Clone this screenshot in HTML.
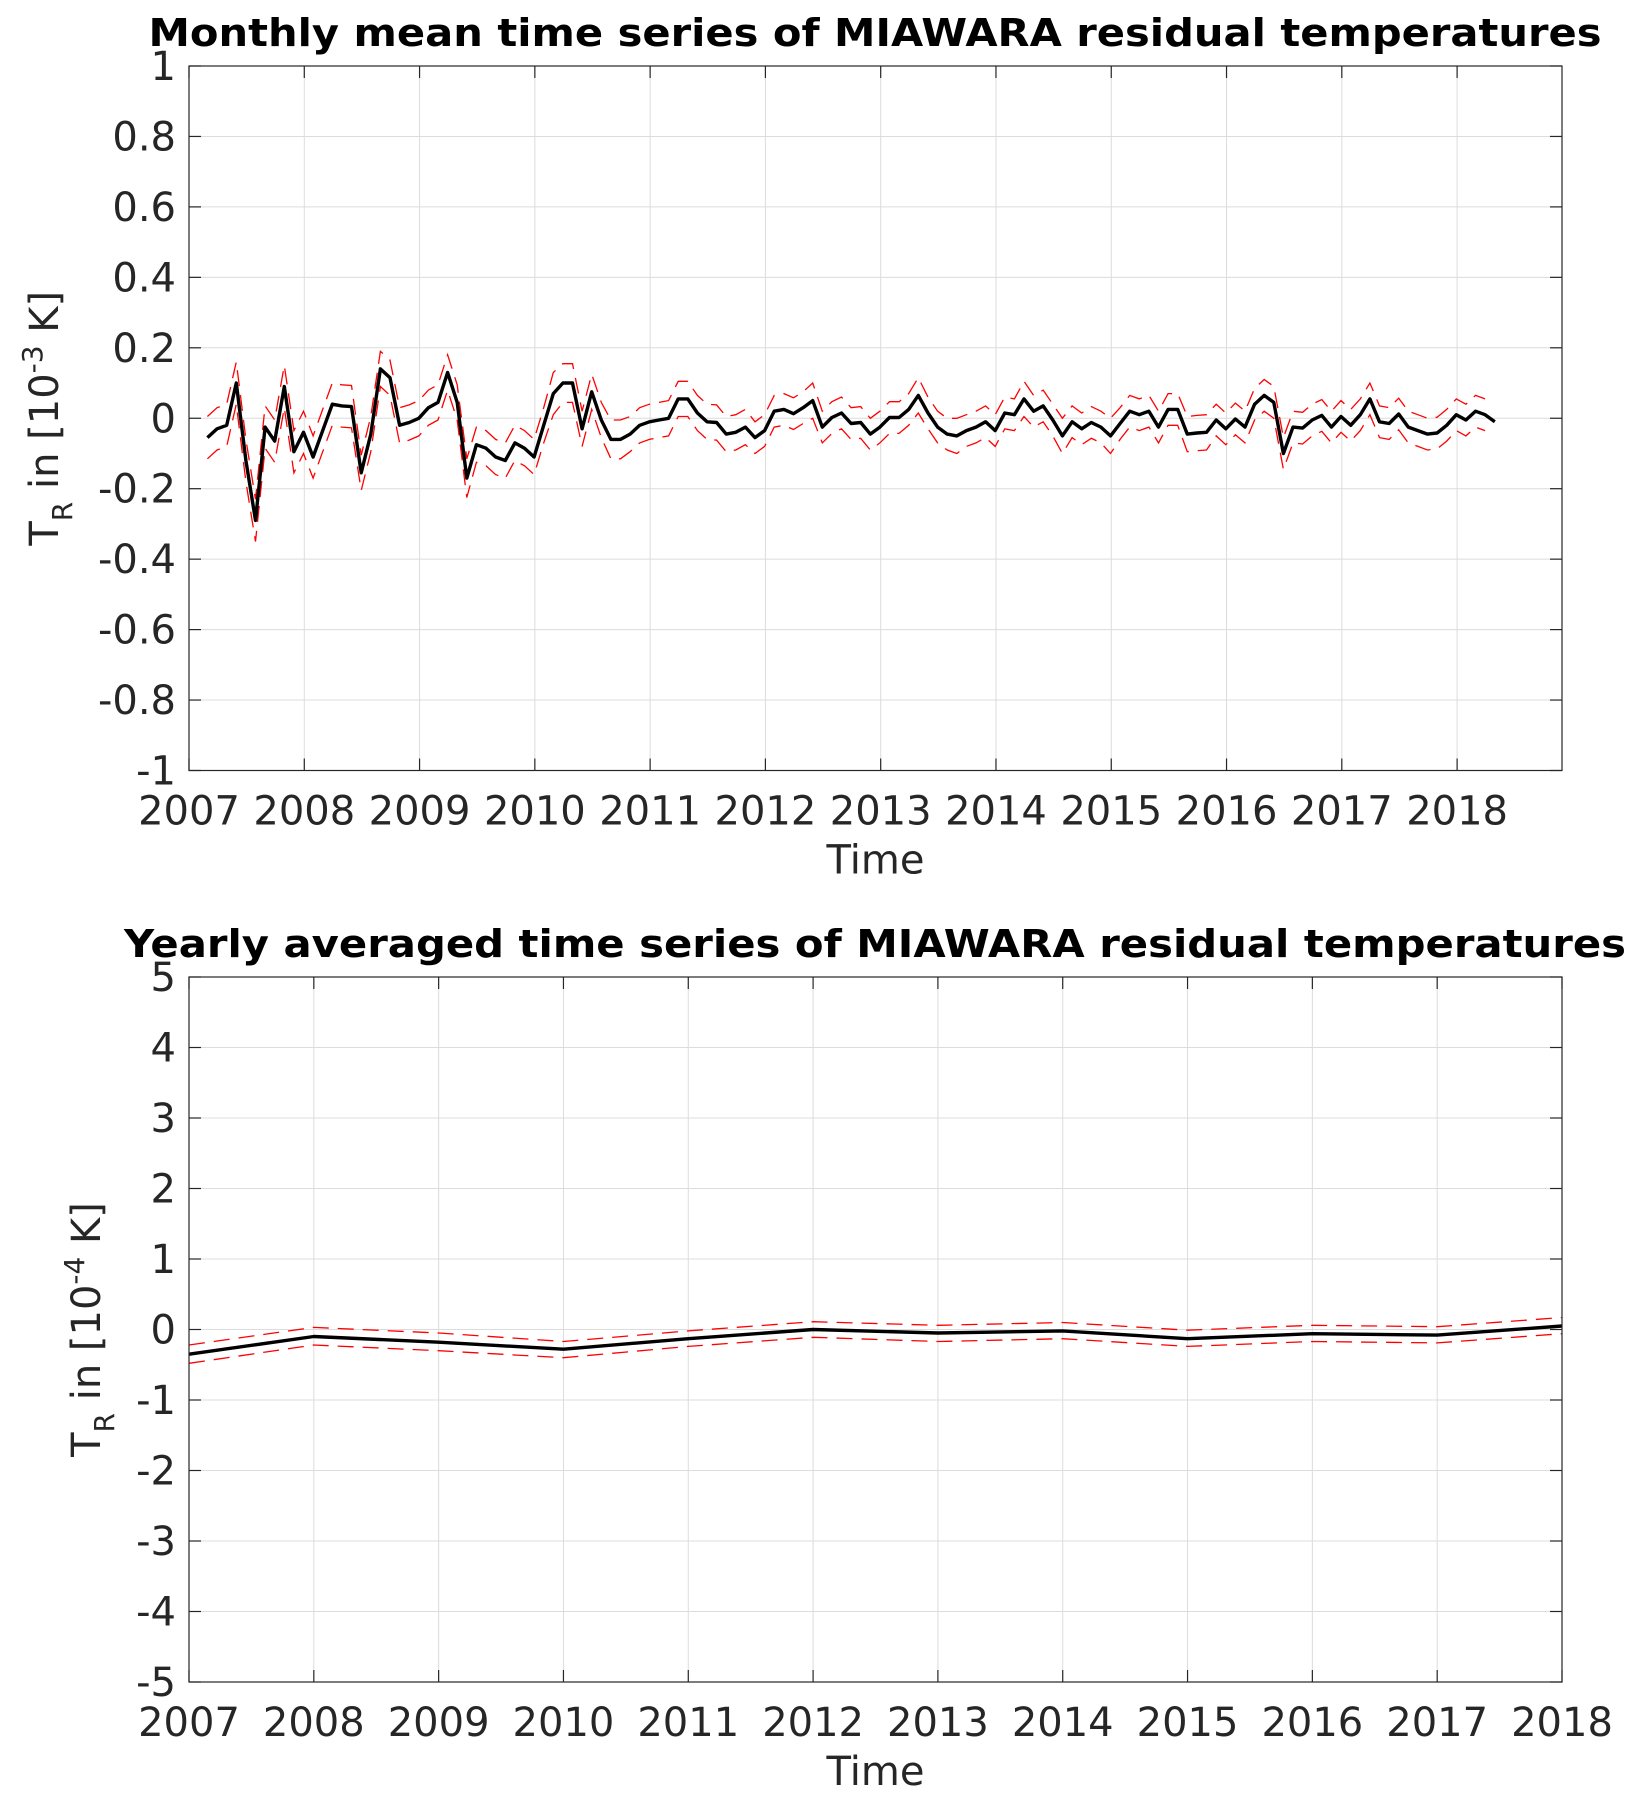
<!DOCTYPE html>
<html><head><meta charset="utf-8"><style>
html,body{margin:0;padding:0;background:#fff;}
svg{display:block;font-family:"DejaVu Sans","Liberation Sans",sans-serif;}
</style></head><body>
<svg id="fig" width="1641" height="1801" viewBox="0 0 1641 1801"></svg>
<script>
// ---- monthly chart data (10^-3 K) ----
const monthlyStart = 2007.16; // first month (decimal year)
const monthlyMean = [-0.055,-0.03,-0.02,0.10,-0.12,-0.29,-0.025,-0.065,0.09,-0.095,-0.04,-0.11,-0.035,0.04,0.035,0.033,-0.155,-0.045,0.14,0.115,-0.02,-0.012,0,0.03,0.045,0.13,0.045,-0.17,-0.075,-0.085,-0.11,-0.12,-0.07,-0.085,-0.11,-0.02,0.07,0.10,0.10,-0.03,0.075,-0.005,-0.06,-0.06,-0.045,-0.02,-0.01,-0.005,0,0.055,0.055,0.015,-0.01,-0.012,-0.045,-0.04,-0.025,-0.055,-0.035,0.02,0.025,0.013,0.03,0.05,-0.025,0.002,0.015,-0.015,-0.012,-0.045,-0.025,0.002,0.002,0.025,0.065,0.015,-0.025,-0.045,-0.05,-0.035,-0.025,-0.01,-0.035,0.015,0.01,0.055,0.02,0.035,-0.005,-0.05,-0.01,-0.03,-0.012,-0.025,-0.05,-0.015,0.02,0.01,0.02,-0.025,0.025,0.025,-0.045,-0.042,-0.04,-0.005,-0.03,-0.002,-0.025,0.04,0.065,0.045,-0.1,-0.025,-0.028,-0.005,0.008,-0.025,0.005,-0.02,0.01,0.055,-0.01,-0.015,0.012,-0.025,-0.035,-0.045,-0.042,-0.02,0.01,-0.005,0.02,0.01,-0.01];
const monthlyErr = [0.06,0.06,0.06,0.06,0.06,0.06,0.06,0.06,0.06,0.06,0.06,0.06,0.06,0.06,0.06,0.06,0.05,0.05,0.05,0.05,0.05,0.05,0.05,0.05,0.05,0.05,0.05,0.055,0.05,0.05,0.05,0.05,0.05,0.05,0.05,0.05,0.06,0.055,0.055,0.05,0.05,0.05,0.055,0.055,0.05,0.05,0.05,0.05,0.05,0.05,0.05,0.05,0.05,0.05,0.05,0.05,0.05,0.045,0.045,0.045,0.045,0.045,0.045,0.05,0.045,0.045,0.045,0.045,0.045,0.045,0.045,0.045,0.045,0.045,0.05,0.045,0.045,0.045,0.05,0.045,0.045,0.045,0.045,0.045,0.045,0.05,0.045,0.045,0.045,0.05,0.045,0.045,0.045,0.045,0.05,0.045,0.045,0.045,0.045,0.045,0.045,0.045,0.05,0.05,0.05,0.045,0.045,0.045,0.045,0.045,0.045,0.045,0.045,0.045,0.045,0.045,0.045,0.045,0.045,0.045,0.045,0.045,0.045,0.045,0.045,0.045,0.045,0.045,0.045,0.045,0.045,0.045,0.045,0.045];
const monthlyYTicks = [-1,-0.8,-0.6,-0.4,-0.2,0,0.2,0.4,0.6,0.8,1];
const monthlyYLabels = ["-1","-0.8","-0.6","-0.4","-0.2","0","0.2","0.4","0.6","0.8","1"];
const yearTicks = [2007,2008,2009,2010,2011,2012,2013,2014,2015,2016,2017,2018];
// ---- yearly chart data (10^-4 K) ----
const yearlyYears = [2007,2008,2009,2010,2011,2012,2013,2014,2015,2016,2017,2018];
const yearlyMean = [-0.35,-0.1,-0.18,-0.28,-0.13,0,-0.05,-0.02,-0.13,-0.06,-0.08,0.05];
const yearlyUpper = [-0.22,0.03,-0.05,-0.17,-0.02,0.11,0.06,0.1,-0.01,0.06,0.04,0.17];
const yearlyLower = [-0.48,-0.22,-0.3,-0.4,-0.24,-0.11,-0.17,-0.13,-0.24,-0.17,-0.19,-0.06];
const yearlyYTicks = [-5,-4,-3,-2,-1,0,1,2,3,4,5];

const NS = "http://www.w3.org/2000/svg";
const svg = document.getElementById('fig');
function mk(tag, attrs, parent){const e=document.createElementNS(NS,tag);for(const k in attrs)e.setAttribute(k,attrs[k]);(parent||svg).appendChild(e);return e;}

function drawAxes(o){
  const g = mk('g',{});
  
  
  const X = v => o.x0 + (v-o.xmin)/(o.xmax-o.xmin)*(o.x1-o.x0);
  const Y = v => o.y1 - (v-o.ymin)/(o.ymax-o.ymin)*(o.y1-o.y0);
  mk('rect',{x:o.x0,y:o.y0,width:o.x1-o.x0,height:o.y1-o.y0,fill:'#fff'},g);
  o.xticks.forEach(t=>{const l=mk('line',{x1:X(t),x2:X(t),y1:o.y0,y2:o.y1,stroke:'#dcdcdc','stroke-width':1},g);
    
    });
  o.yticks.forEach(t=>{const l=mk('line',{x1:o.x0,x2:o.x1,y1:Y(t),y2:Y(t),stroke:'#dcdcdc','stroke-width':1},g);
    
    });
  const pts = (xs,ys)=>xs.map((x,i)=>X(x).toFixed(1)+','+Y(ys[i]).toFixed(1)).join(' ');
  const up = mk('polyline',{points:pts(o.xs,o.up),fill:'none',stroke:'#ff0000','stroke-width':1.3,'stroke-dasharray':'16,9'},g);
  
  
  const lo = mk('polyline',{points:pts(o.xs,o.lo),fill:'none',stroke:'#ff0000','stroke-width':1.3,'stroke-dasharray':'16,9'},g);
  
  
  const m = mk('polyline',{points:pts(o.xs,o.mean),fill:'none',stroke:'#000','stroke-width':3.4,'stroke-linejoin':'round'},g);
  
  
  mk('rect',{x:o.x0,y:o.y0,width:o.x1-o.x0,height:o.y1-o.y0,fill:'none',stroke:'#262626','stroke-width':1.2},g);
  o.xticks.forEach(t=>{
    mk('line',{x1:X(t),x2:X(t),y1:o.y1,y2:o.y1-12,stroke:'#262626','stroke-width':1.2},g);
    mk('line',{x1:X(t),x2:X(t),y1:o.y0,y2:o.y0+12,stroke:'#262626','stroke-width':1.2},g);
    const tx = mk('text',{x:X(t),y:o.y1+54,'text-anchor':'middle','font-size':40,fill:'#262626'},g);
    tx.textContent = String(t);
    
    
  });
  o.yticks.forEach((t,i)=>{
    mk('line',{x1:o.x0,x2:o.x0+12,y1:Y(t),y2:Y(t),stroke:'#262626','stroke-width':1.2},g);
    mk('line',{x1:o.x1,x2:o.x1-12,y1:Y(t),y2:Y(t),stroke:'#262626','stroke-width':1.2},g);
    const tx = mk('text',{x:o.x0-13,y:Y(t)+14,'text-anchor':'end','font-size':40,fill:'#262626'},g);
    tx.textContent = o.ylabels[i];
    
    
  });
  const ti = mk('text',{x:o.tx,y:o.y0-20,'text-anchor':'middle','font-size':38,'font-weight':'bold',fill:'#000',textLength:o.tlen,lengthAdjust:'spacingAndGlyphs'},g);
  ti.textContent = o.title;
  
  
  const xl = mk('text',{x:(o.x0+o.x1)/2,y:o.y1+103,'text-anchor':'middle','font-size':40,fill:'#262626'},g);
  xl.textContent = 'Time';
  
  
  const yl = mk('text',{transform:`translate(${o.ylx},${(o.y0+o.y1)/2}) rotate(-90)`,'text-anchor':'middle','font-size':40,fill:'#262626'},g);
  yl.innerHTML = 'T<tspan font-size="28" dy="14">R</tspan><tspan dy="-14"> in [10</tspan><tspan font-size="28" dy="-16">-'+o.exp+'</tspan><tspan dy="16"> K]</tspan>';
  
  
}

const mx = monthlyMean.map((v,i)=>monthlyStart + i/12);
drawAxes({name:'monthly-chart',x0:189,x1:1562,y0:66,y1:770.5,xmin:2007,xmax:2018.91,ymin:-1,ymax:1,
  xticks:yearTicks,yticks:monthlyYTicks,ylabels:monthlyYLabels,
  xs:mx,mean:monthlyMean,up:monthlyMean.map((v,i)=>v+monthlyErr[i]),lo:monthlyMean.map((v,i)=>v-monthlyErr[i]),
  title:'Monthly mean time series of MIAWARA residual temperatures',tx:875,tlen:1453,ylx:58,exp:'3'});
drawAxes({name:'yearly-chart',x0:189,x1:1562,y0:977,y1:1682,xmin:2007,xmax:2018,ymin:-5,ymax:5,
  xticks:yearTicks,yticks:yearlyYTicks,ylabels:yearlyYTicks.map(String),
  xs:yearlyYears,mean:yearlyMean,up:yearlyUpper,lo:yearlyLower,
  title:'Yearly averaged time series of MIAWARA residual temperatures',tx:875,tlen:1502,ylx:100,exp:'4'});
</script>
</body></html>
